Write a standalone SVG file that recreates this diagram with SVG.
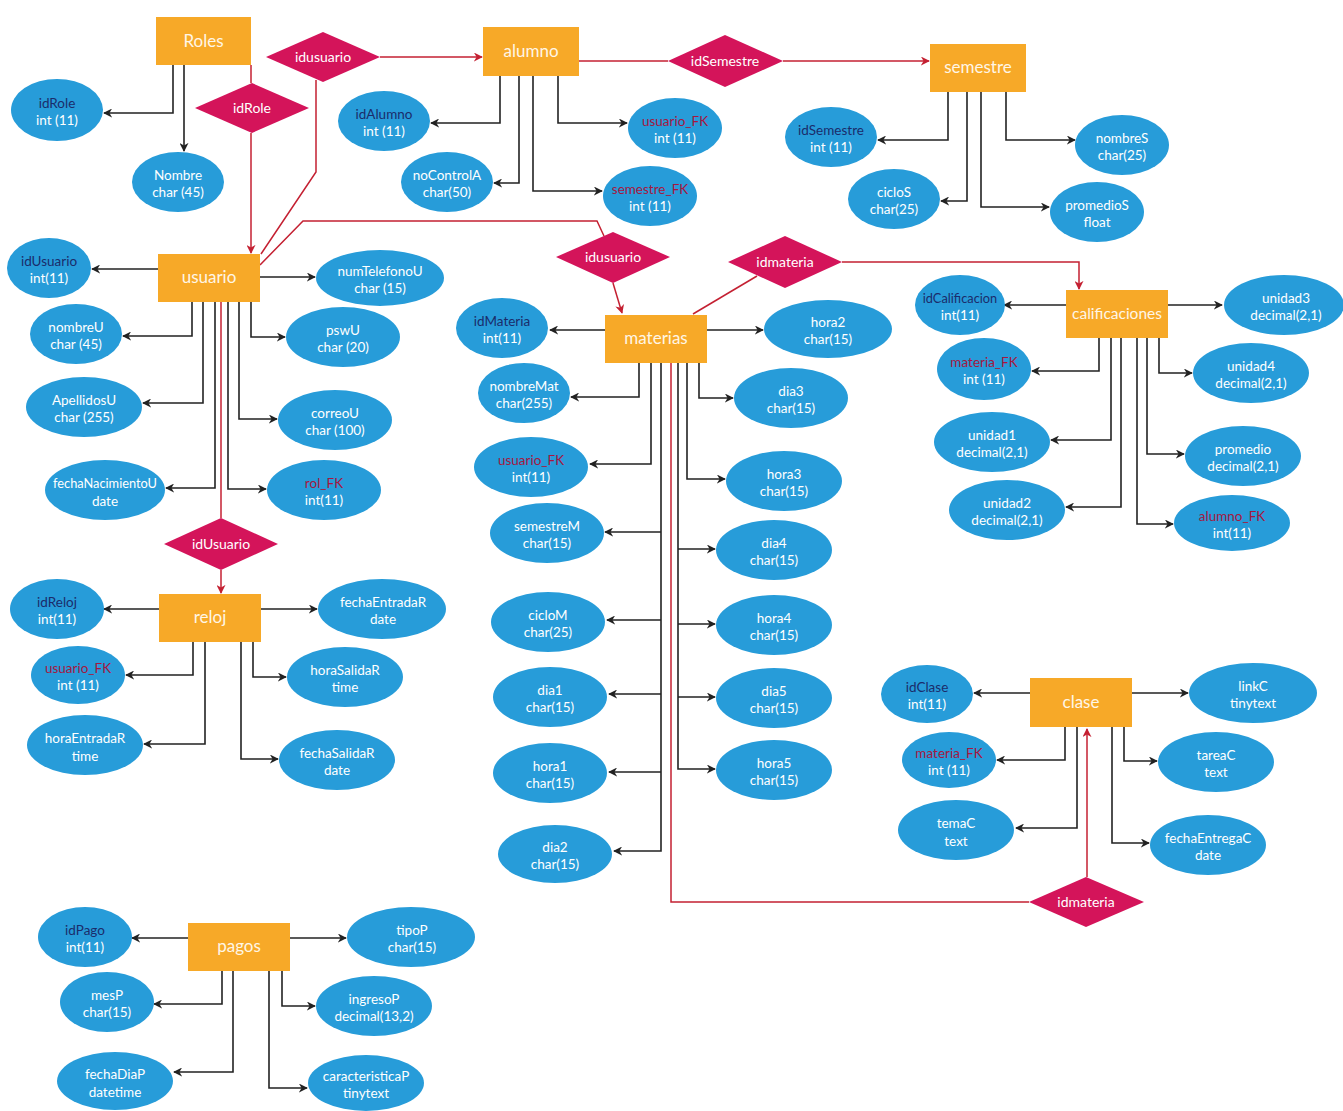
<svg xmlns="http://www.w3.org/2000/svg" width="1343" height="1111" viewBox="0 0 1343 1111">
<defs>
<style>
text{font-family:Lato,"Open Sans","Liberation Sans",sans-serif;text-anchor:middle}
.ent rect{fill:#F7A928}
.ent text{fill:#FFF6E6;font-size:17px}
.att ellipse{fill:#279CD9}
.att text{fill:#FFFFFF;font-size:13.5px}
.att text.pk{fill:#1B2C6B}
.att text.fk{fill:#A5173F}
.att text.sm{font-size:12.8px}
.rel polygon{fill:#D4145A}
.rel text{fill:#FFFFFF;font-size:14px}
.blk path{fill:none;stroke:#222;stroke-width:1.6;marker-end:url(#ab)}
.red path{fill:none;stroke:#C42032;stroke-width:1.5}
.red path.ar{marker-end:url(#ar)}
</style>
<marker id="ab" viewBox="0 0 10 10" refX="9" refY="5" markerWidth="9" markerHeight="9" markerUnits="userSpaceOnUse" orient="auto"><path d="M0,0 L10,5 L0,10 L3,5 z" fill="#222"/></marker>
<marker id="ar" viewBox="0 0 10 10" refX="9" refY="5" markerWidth="9" markerHeight="9" markerUnits="userSpaceOnUse" orient="auto"><path d="M0,0 L10,5 L0,10 L3,5 z" fill="#C42032"/></marker>
</defs>
<rect width="1343" height="1111" fill="#FFFFFF"/>

<g id="connectors">
<g class="red">
<path d="M251,65 V83"/>
<path class="ar" d="M251,133 V253"/>
<path class="ar" d="M380,57 H482"/>
<path d="M316,80 V172 L261,254"/>
<path d="M260,265 L303,221 H597 L604,236"/>
<path class="ar" d="M613,283 L622,313"/>
<path d="M693,314 L757,276"/>
<path class="ar" d="M842,262 H1079 V289"/>
<path d="M579,61 H668"/>
<path class="ar" d="M783,61 H929"/>
<path d="M221,302 V518"/>
<path class="ar" d="M221,570 V593"/>
<path d="M671,363 V902 H1029"/>
<path class="ar" d="M1087,877 V729"/>
</g>
<g class="blk">
<path d="M173,65 V113 H104"/>
<path d="M184,65 V151"/>
<path d="M500,76 V123 H431"/>
<path d="M519,76 V183 H494"/>
<path d="M558,76 V123 H627"/>
<path d="M533,76 V191 H602"/>
<path d="M948,92 V140 H878"/>
<path d="M967,92 V201 H941"/>
<path d="M981,92 V207 H1049"/>
<path d="M1006,92 V140 H1075"/>
<path d="M158,269 H92"/>
<path d="M192,302 V336 H123"/>
<path d="M203,302 V403 H143"/>
<path d="M215,302 V488 H166"/>
<path d="M259,277 H315"/>
<path d="M251,302 V337 H285"/>
<path d="M239,302 V419 H277"/>
<path d="M228,302 V489 H266"/>
<path d="M605,330 H550"/>
<path d="M707,330 H763"/>
<path d="M639,363 V397 H571"/>
<path d="M651,363 V464 H590"/>
<path d="M699,363 V398 H733"/>
<path d="M687,363 V479 H725"/>
<path d="M661,363 V851 H614"/>
<path d="M661,532 H605"/>
<path d="M661,620 H607"/>
<path d="M661,694 H609"/>
<path d="M661,772 H609"/>
<path d="M678,363 V769 H715"/>
<path d="M678,549 H715"/>
<path d="M678,624 H715"/>
<path d="M678,697 H715"/>
<path d="M1066,305 H1004"/>
<path d="M1168,305 H1222"/>
<path d="M1099,338 V371 H1032"/>
<path d="M1111,338 V440 H1051"/>
<path d="M1121,338 V507 H1066"/>
<path d="M1159,338 V373 H1192"/>
<path d="M1147,338 V454 H1184"/>
<path d="M1137,338 V524 H1173"/>
<path d="M159,609 H104"/>
<path d="M261,609 H317"/>
<path d="M193,642 V675 H126"/>
<path d="M205,642 V744 H144"/>
<path d="M253,642 V677 H286"/>
<path d="M241,642 V759 H278"/>
<path d="M1030,693 H974"/>
<path d="M1132,693 H1188"/>
<path d="M1065,727 V760 H997"/>
<path d="M1077,727 V828 H1016"/>
<path d="M1124,727 V761 H1157"/>
<path d="M1112,727 V843 H1149"/>
<path d="M188,938 H132"/>
<path d="M290,938 H346"/>
<path d="M222,971 V1004 H154"/>
<path d="M233,971 V1072 H174"/>
<path d="M282,971 V1006 H315"/>
<path d="M269,971 V1088 H307"/>
</g>
</g>

<g id="e-Roles" class="ent"><rect x="156" y="17" width="95" height="48"/><text x="203.5" y="47">Roles</text></g>
<g id="e-alumno" class="ent"><rect x="483" y="27" width="96" height="49"/><text x="531" y="57">alumno</text></g>
<g id="e-semestre" class="ent"><rect x="930" y="44" width="96" height="48"/><text x="978" y="73">semestre</text></g>
<g id="e-usuario" class="ent"><rect x="158" y="254" width="102" height="48"/><text x="209" y="283">usuario</text></g>
<g id="e-materias" class="ent"><rect x="605" y="315" width="102" height="48"/><text x="656" y="344">materias</text></g>
<g id="e-calificaciones" class="ent"><rect x="1066" y="290" width="102" height="48"/><text x="1117" y="319" style="font-size:15.5px">calificaciones</text></g>
<g id="e-reloj" class="ent"><rect x="159" y="594" width="102" height="48"/><text x="210" y="623">reloj</text></g>
<g id="e-clase" class="ent"><rect x="1030" y="678" width="102" height="49"/><text x="1081" y="708">clase</text></g>
<g id="e-pagos" class="ent"><rect x="188" y="923" width="102" height="48"/><text x="239" y="952">pagos</text></g>

<g id="r-idusuario-1" class="rel"><polygon points="266,57 323,32 380,57 323,82"/><text x="323" y="62">idusuario</text></g>
<g id="r-idRole" class="rel"><polygon points="195,108 252,83 309,108 252,133"/><text x="252" y="113">idRole</text></g>
<g id="r-idSemestre" class="rel"><polygon points="668,61 725,35 783,61 725,87"/><text x="725" y="66">idSemestre</text></g>
<g id="r-idusuario-2" class="rel"><polygon points="556,257 613,232 670,257 613,283"/><text x="613" y="262">idusuario</text></g>
<g id="r-idmateria-1" class="rel"><polygon points="728,262 785,236 842,262 785,288"/><text x="785" y="267">idmateria</text></g>
<g id="r-idUsuario-3" class="rel"><polygon points="164,544 221,518 278,544 221,570"/><text x="221" y="549">idUsuario</text></g>
<g id="r-idmateria-2" class="rel"><polygon points="1029,902 1086,877 1144,902 1086,927"/><text x="1086" y="907">idmateria</text></g>

<g id="a-idRole" class="att"><ellipse cx="57" cy="110" rx="46" ry="31"/><text class="pk" x="57" y="108">idRole</text><text x="57" y="125">int (11)</text></g>
<g id="a-Nombre" class="att"><ellipse cx="178" cy="182" rx="46" ry="30"/><text x="178" y="180">Nombre</text><text x="178" y="197">char (45)</text></g>

<g id="a-idAlumno" class="att"><ellipse cx="384" cy="121" rx="46" ry="30"/><text class="pk" x="384" y="119">idAlumno</text><text x="384" y="136">int (11)</text></g>
<g id="a-noControlA" class="att"><ellipse cx="447" cy="182" rx="46" ry="30"/><text x="447" y="180">noControlA</text><text x="447" y="197">char(50)</text></g>
<g id="a-usuario_FK-alumno" class="att"><ellipse cx="675" cy="128" rx="47" ry="30"/><text class="fk" x="675" y="126">usuario_FK</text><text x="675" y="143">int (11)</text></g>
<g id="a-semestre_FK" class="att"><ellipse cx="650" cy="196" rx="47" ry="30"/><text class="fk" x="650" y="194">semestre_FK</text><text x="650" y="211">int (11)</text></g>

<g id="a-idSemestre" class="att"><ellipse cx="831" cy="137" rx="46" ry="30"/><text class="pk" x="831" y="135">idSemestre</text><text x="831" y="152">int (11)</text></g>
<g id="a-cicloS" class="att"><ellipse cx="894" cy="199" rx="46" ry="30"/><text x="894" y="197">cicloS</text><text x="894" y="214">char(25)</text></g>
<g id="a-nombreS" class="att"><ellipse cx="1122" cy="145" rx="47" ry="30"/><text x="1122" y="143">nombreS</text><text x="1122" y="160">char(25)</text></g>
<g id="a-promedioS" class="att"><ellipse cx="1097" cy="212" rx="47" ry="30"/><text x="1097" y="210">promedioS</text><text x="1097" y="227">float</text></g>

<g id="a-idUsuario" class="att"><ellipse cx="49" cy="268" rx="42" ry="30"/><text class="pk" x="49" y="266">idUsuario</text><text x="49" y="283">int(11)</text></g>
<g id="a-nombreU" class="att"><ellipse cx="76" cy="334" rx="46" ry="30"/><text x="76" y="332">nombreU</text><text x="76" y="349">char (45)</text></g>
<g id="a-ApellidosU" class="att"><ellipse cx="84" cy="407" rx="58" ry="30"/><text x="84" y="405">ApellidosU</text><text x="84" y="422">char (255)</text></g>
<g id="a-fechaNacimientoU" class="att"><ellipse cx="105" cy="490" rx="60" ry="30"/><text class="sm" x="105" y="488">fechaNacimientoU</text><text x="105" y="506">date</text></g>
<g id="a-numTelefonoU" class="att"><ellipse cx="380" cy="278" rx="64" ry="28"/><text x="380" y="276">numTelefonoU</text><text x="380" y="293">char (15)</text></g>
<g id="a-pswU" class="att"><ellipse cx="343" cy="337" rx="57" ry="30"/><text x="343" y="335">pswU</text><text x="343" y="352">char (20)</text></g>
<g id="a-correoU" class="att"><ellipse cx="335" cy="420" rx="57" ry="30"/><text x="335" y="418">correoU</text><text x="335" y="435">char (100)</text></g>
<g id="a-rol_FK" class="att"><ellipse cx="324" cy="490" rx="57" ry="30"/><text class="fk" x="324" y="488">rol_FK</text><text x="324" y="505">int(11)</text></g>

<g id="a-idMateria" class="att"><ellipse cx="502" cy="328" rx="46" ry="30"/><text class="pk" x="502" y="326">idMateria</text><text x="502" y="343">int(11)</text></g>
<g id="a-nombreMat" class="att"><ellipse cx="524" cy="393" rx="46" ry="30"/><text x="524" y="391">nombreMat</text><text x="524" y="408">char(255)</text></g>
<g id="a-usuario_FK-materias" class="att"><ellipse cx="531" cy="467" rx="57" ry="30"/><text class="fk" x="531" y="465">usuario_FK</text><text x="531" y="482">int(11)</text></g>
<g id="a-semestreM" class="att"><ellipse cx="547" cy="533" rx="57" ry="30"/><text x="547" y="531">semestreM</text><text x="547" y="548">char(15)</text></g>
<g id="a-cicloM" class="att"><ellipse cx="548" cy="622" rx="57" ry="30"/><text x="548" y="620">cicloM</text><text x="548" y="637">char(25)</text></g>
<g id="a-dia1" class="att"><ellipse cx="550" cy="697" rx="57" ry="30"/><text x="550" y="695">dia1</text><text x="550" y="712">char(15)</text></g>
<g id="a-hora1" class="att"><ellipse cx="550" cy="773" rx="57" ry="30"/><text x="550" y="771">hora1</text><text x="550" y="788">char(15)</text></g>
<g id="a-dia2" class="att"><ellipse cx="555" cy="854" rx="57" ry="29"/><text x="555" y="852">dia2</text><text x="555" y="869">char(15)</text></g>
<g id="a-hora2" class="att"><ellipse cx="828" cy="329" rx="64" ry="29"/><text x="828" y="327">hora2</text><text x="828" y="344">char(15)</text></g>
<g id="a-dia3" class="att"><ellipse cx="791" cy="398" rx="57" ry="30"/><text x="791" y="396">dia3</text><text x="791" y="413">char(15)</text></g>
<g id="a-hora3" class="att"><ellipse cx="784" cy="481" rx="58" ry="30"/><text x="784" y="479">hora3</text><text x="784" y="496">char(15)</text></g>
<g id="a-dia4" class="att"><ellipse cx="774" cy="550" rx="58" ry="30"/><text x="774" y="548">dia4</text><text x="774" y="565">char(15)</text></g>
<g id="a-hora4" class="att"><ellipse cx="774" cy="625" rx="58" ry="30"/><text x="774" y="623">hora4</text><text x="774" y="640">char(15)</text></g>
<g id="a-dia5" class="att"><ellipse cx="774" cy="698" rx="58" ry="30"/><text x="774" y="696">dia5</text><text x="774" y="713">char(15)</text></g>
<g id="a-hora5" class="att"><ellipse cx="774" cy="770" rx="58" ry="30"/><text x="774" y="768">hora5</text><text x="774" y="785">char(15)</text></g>

<g id="a-idCalificacion" class="att"><ellipse cx="960" cy="305" rx="45" ry="30"/><text class="pk sm" x="960" y="303">idCalificacion</text><text x="960" y="320">int(11)</text></g>
<g id="a-materia_FK-calif" class="att"><ellipse cx="984" cy="369" rx="47" ry="31"/><text class="fk" x="984" y="367">materia_FK</text><text x="984" y="384">int (11)</text></g>
<g id="a-unidad1" class="att"><ellipse cx="992" cy="442" rx="58" ry="30"/><text x="992" y="440">unidad1</text><text x="992" y="457">decimal(2,1)</text></g>
<g id="a-unidad2" class="att"><ellipse cx="1007" cy="510" rx="58" ry="30"/><text x="1007" y="508">unidad2</text><text x="1007" y="525">decimal(2,1)</text></g>
<g id="a-unidad3" class="att"><ellipse cx="1284" cy="305" rx="60" ry="30"/><text x="1286" y="303">unidad3</text><text x="1286" y="320">decimal(2,1)</text></g>
<g id="a-unidad4" class="att"><ellipse cx="1251" cy="373" rx="58" ry="30"/><text x="1251" y="371">unidad4</text><text x="1251" y="388">decimal(2,1)</text></g>
<g id="a-promedio" class="att"><ellipse cx="1243" cy="456" rx="58" ry="30"/><text x="1243" y="454">promedio</text><text x="1243" y="471">decimal(2,1)</text></g>
<g id="a-alumno_FK" class="att"><ellipse cx="1232" cy="523" rx="58" ry="28"/><text class="fk" x="1232" y="521">alumno_FK</text><text x="1232" y="538">int(11)</text></g>

<g id="a-idReloj" class="att"><ellipse cx="57" cy="609" rx="47" ry="30"/><text class="pk" x="57" y="607">idReloj</text><text x="57" y="624">int(11)</text></g>
<g id="a-usuario_FK-reloj" class="att"><ellipse cx="78" cy="675" rx="47" ry="29"/><text class="fk" x="78" y="673">usuario_FK</text><text x="78" y="690">int (11)</text></g>
<g id="a-horaEntradaR" class="att"><ellipse cx="85" cy="745" rx="58" ry="30"/><text x="85" y="743">horaEntradaR</text><text x="85" y="761">time</text></g>
<g id="a-fechaEntradaR" class="att"><ellipse cx="382" cy="609" rx="64" ry="30"/><text x="383" y="607">fechaEntradaR</text><text x="383" y="624">date</text></g>
<g id="a-horaSalidaR" class="att"><ellipse cx="345" cy="677" rx="58" ry="30"/><text x="345" y="675">horaSalidaR</text><text x="345" y="692">time</text></g>
<g id="a-fechaSalidaR" class="att"><ellipse cx="337" cy="760" rx="58" ry="30"/><text x="337" y="758">fechaSalidaR</text><text x="337" y="775">date</text></g>

<g id="a-idClase" class="att"><ellipse cx="927" cy="694" rx="46" ry="29"/><text class="pk" x="927" y="692">idClase</text><text x="927" y="709">int(11)</text></g>
<g id="a-materia_FK-clase" class="att"><ellipse cx="949" cy="760" rx="47" ry="28"/><text class="fk" x="949" y="758">materia_FK</text><text x="949" y="775">int (11)</text></g>
<g id="a-temaC" class="att"><ellipse cx="956" cy="830" rx="58" ry="30"/><text x="956" y="828">temaC</text><text x="956" y="846">text</text></g>
<g id="a-linkC" class="att"><ellipse cx="1253" cy="693" rx="64" ry="30"/><text x="1253" y="691">linkC</text><text x="1253" y="708">tinytext</text></g>
<g id="a-tareaC" class="att"><ellipse cx="1216" cy="762" rx="58" ry="30"/><text x="1216" y="760">tareaC</text><text x="1216" y="777">text</text></g>
<g id="a-fechaEntregaC" class="att"><ellipse cx="1208" cy="845" rx="58" ry="30"/><text x="1208" y="843">fechaEntregaC</text><text x="1208" y="860">date</text></g>

<g id="a-idPago" class="att"><ellipse cx="85" cy="937" rx="47" ry="30"/><text class="pk" x="85" y="935">idPago</text><text x="85" y="952">int(11)</text></g>
<g id="a-mesP" class="att"><ellipse cx="107" cy="1002" rx="47" ry="30"/><text x="107" y="1000">mesP</text><text x="107" y="1017">char(15)</text></g>
<g id="a-fechaDiaP" class="att"><ellipse cx="115" cy="1081" rx="58" ry="29"/><text x="115" y="1079">fechaDiaP</text><text x="115" y="1097">datetime</text></g>
<g id="a-tipoP" class="att"><ellipse cx="411" cy="937" rx="64" ry="30"/><text x="412" y="935">tipoP</text><text x="412" y="952">char(15)</text></g>
<g id="a-ingresoP" class="att"><ellipse cx="374" cy="1006" rx="58" ry="30"/><text x="374" y="1004">ingresoP</text><text x="374" y="1021">decimal(13,2)</text></g>
<g id="a-caracteristicaP" class="att"><ellipse cx="366" cy="1083" rx="58" ry="28"/><text x="366" y="1081">caracteristicaP</text><text x="366" y="1098">tinytext</text></g>
</svg>
